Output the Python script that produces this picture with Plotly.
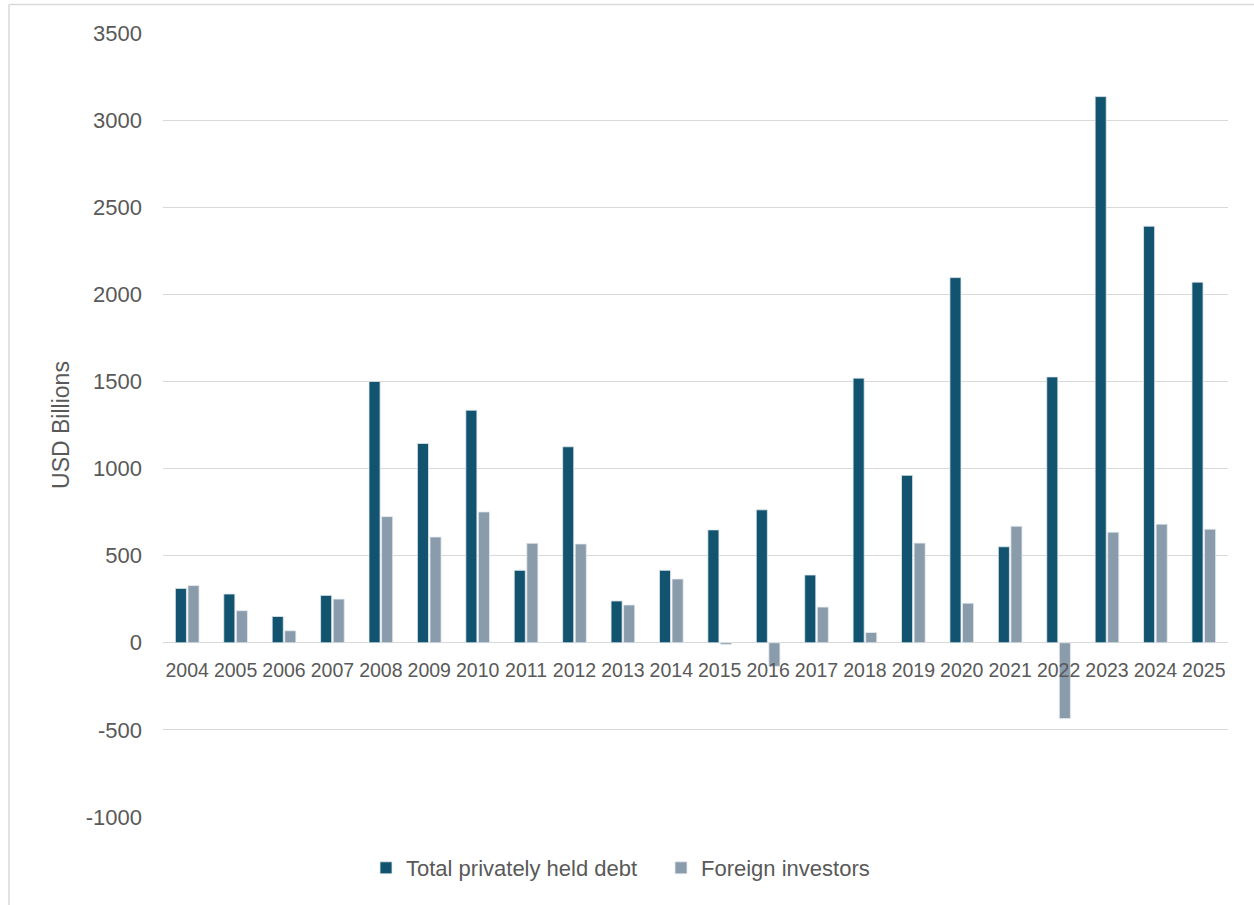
import plotly.graph_objects as go

years = [str(y) for y in range(2004, 2026)]
total_privately_held = [312, 280, 151, 272, 1500, 1144, 1335, 416, 1125, 240, 416, 648,
                        763, 389, 1519, 961, 2096, 551, 1526, 3135, 2391, 2070]
foreign_investors = [328, 184, 69, 251, 724, 607, 751, 571, 567, 217, 366, -10,
                     -135, 205, 59, 572, 227, 669, -435, 635, 681, 652]

y_ticks = [-1000, -500, 0, 500, 1000, 1500, 2000, 2500, 3000, 3500]
y_tick_labels = ["-1000", "-500", "0", "500", "1000", "1500", "2000", "2500", "3000", "3500"]

DARK = "#12536F"
LIGHT = "#8A9BAC"
TEXT = "#595959"
GRID = "#D9D9D9"
FONT = "Liberation Sans, Arial, sans-serif"

fig = go.Figure()
fig.add_trace(go.Bar(x=years, y=total_privately_held, name="Total privately held debt",
                     marker=dict(color=DARK, line=dict(color="#E4EAEE", width=0.8))))
fig.add_trace(go.Bar(x=years, y=foreign_investors, name="Foreign investors",
                     marker=dict(color=LIGHT, line=dict(color="#E4EAEE", width=0.8))))

W, H = 1254, 905
L, R, T, B = 163, 26, 33, 88
pw, ph = W - L - R, H - T - B

fig.update_layout(
    width=W, height=H,
    margin=dict(l=L, r=R, t=T, b=B, autoexpand=False),
    paper_bgcolor="white", plot_bgcolor="white",
    barmode="group", bargap=0.48, bargroupgap=0.12,
    font=dict(family=FONT, color=TEXT),
    showlegend=True,
    legend=dict(orientation="h", x=(366 - L) / pw, xanchor="left",
                y=(H - B - 868) / ph, yanchor="middle",
                font=dict(size=22, color=TEXT), entrywidth=250, entrywidthmode="pixels",
                bgcolor="rgba(0,0,0,0)"),
    yaxis=dict(range=[-1000, 3500], tickvals=y_ticks, ticktext=y_tick_labels,
               showgrid=True, gridcolor=GRID,
               gridwidth=1.3, zeroline=False, showline=False, ticks="",
               tickfont=dict(size=22, color=TEXT), ticklabelstandoff=20,
               title=dict(text="USD Billions", font=dict(size=23, color=TEXT), standoff=9),
               automargin=False),
    xaxis=dict(type="category", anchor="free", position=1000 / 4500, showline=False,
               showgrid=False, zeroline=False, ticks="",
               tickfont=dict(size=19.5, color=TEXT), ticklabelstandoff=14, automargin=False),
    shapes=[
        dict(type="line", xref="paper", yref="paper", x0=(9 - L) / pw, x1=(9 - L) / pw,
             y0=(H - B - 910) / ph, y1=(H - B - 4.5) / ph, line=dict(color=GRID, width=1.5)),
        dict(type="line", xref="paper", yref="paper", x0=(9 - L) / pw, x1=(1260 - L) / pw,
             y0=(H - B - 4.5) / ph, y1=(H - B - 4.5) / ph, line=dict(color=GRID, width=1.5)),
    ],
)

fig.write_html("out.html")
